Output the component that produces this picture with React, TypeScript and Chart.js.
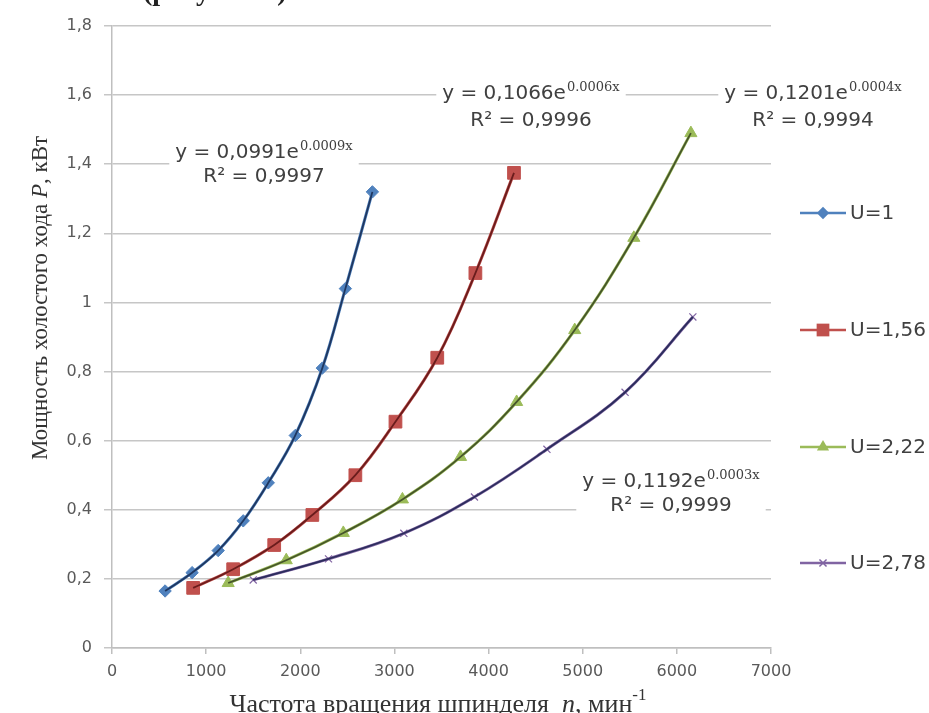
import React, { useEffect, useRef } from "react";
import { Chart, registerables } from "chart.js";

Chart.register(...registerables);

// ---- data ----
const seriesNames = ["U=1", "U=1,56", "U=2,22", "U=2,78"];

const u1X = [564, 851, 1128, 1394, 1660, 1947, 2234, 2479, 2766];
const u1Y = [0.165, 0.218, 0.282, 0.368, 0.478, 0.615, 0.81, 1.04, 1.32];

const u156X = [862, 1287, 1723, 2128, 2585, 3011, 3455, 3860, 4270];
const u156Y = [0.174, 0.228, 0.298, 0.385, 0.5, 0.655, 0.84, 1.085, 1.375];

const u222X = [1234, 1851, 2457, 3085, 3702, 4298, 4915, 5543, 6149];
const u222Y = [0.188, 0.254, 0.333, 0.43, 0.553, 0.712, 0.92, 1.187, 1.49];

const u278X = [1500, 2300, 3100, 3850, 4620, 5450, 6170];
const u278Y = [0.197, 0.258, 0.332, 0.437, 0.575, 0.74, 0.958];

const xTickLabels = ["0", "1000", "2000", "3000", "4000", "5000", "6000", "7000"];
const yTickLabels = ["0", "0,2", "0,4", "0,6", "0,8", "1", "1,2", "1,4", "1,6", "1,8"];

const eqMain = ["y = 0,0991e", "y = 0,1066e", "y = 0,1201e", "y = 0,1192e"];
const eqExp = ["0.0009x", "0.0006x", "0.0004x", "0.0003x"];
const eqR2 = ["R² = 0,9997", "R² = 0,9996", "R² = 0,9994", "R² = 0,9999"];

const yTitle = ["Мощность холостого хода ", "P", ", кВт"];
const xTitle = ["Частота вращения шпинделя  ", "n", ", мин", "-1"];
const topText = "(рисунок 3)";

// ---- styles ----
const colors = ["#4f81bd", "#c0504d", "#9bbb59", "#8064a2"];
const darkColors = ["#1f3760", "#6a1c1c", "#46552a", "#2b2d5c"];
const pointStyles = ["rectRot", "rect", "triangle", "crossRot"];
const pointRadii = [6.2, 9, 7, 5];

const labelPos = [
  { cx: 264, b1: 158, b2: 182 },
  { cx: 531, b1: 99, b2: 126 },
  { cx: 813, b1: 99, b2: 126 },
  { cx: 671, b1: 487, b2: 511 },
];
const legendY = [213, 330, 447, 563];

function toPts(xs: number[], ys: number[]) {
  return xs.map((x, i) => ({ x, y: ys[i] }));
}

function drawMarker(ctx: CanvasRenderingContext2D, style: string, x: number, y: number, r: number, color: string) {
  ctx.save();
  ctx.fillStyle = color;
  ctx.strokeStyle = color;
  ctx.lineWidth = 1.5;
  ctx.beginPath();
  if (style === "rectRot") {
    ctx.moveTo(x, y - r);
    ctx.lineTo(x + r, y);
    ctx.lineTo(x, y + r);
    ctx.lineTo(x - r, y);
    ctx.closePath();
    ctx.fill();
  } else if (style === "rect") {
    const s = r * Math.SQRT1_2;
    ctx.rect(x - s, y - s, 2 * s, 2 * s);
    ctx.fill();
  } else if (style === "triangle") {
    ctx.moveTo(x, y - r);
    ctx.lineTo(x + r * 0.87, y + r * 0.5);
    ctx.lineTo(x - r * 0.87, y + r * 0.5);
    ctx.closePath();
    ctx.fill();
  } else {
    const s = r * Math.SQRT1_2;
    ctx.moveTo(x - s, y - s);
    ctx.lineTo(x + s, y + s);
    ctx.moveTo(x + s, y - s);
    ctx.lineTo(x - s, y + s);
    ctx.stroke();
  }
  ctx.restore();
}

const overlayPlugin = {
  id: "overlay",
  afterDraw(chart: any) {
    const ctx: CanvasRenderingContext2D = chart.ctx;
    ctx.save();
    const eqFont = '20px "DejaVu Sans"';
    const expFont = '13px "DejaVu Serif"';
    // equation labels
    for (let i = 0; i < eqMain.length; i++) {
      const p = labelPos[i];
      ctx.font = eqFont;
      const wMain = ctx.measureText(eqMain[i]).width;
      const wR2 = ctx.measureText(eqR2[i]).width;
      ctx.font = expFont;
      const wExp = ctx.measureText(eqExp[i]).width;
      const total = wMain + wExp + 1;
      const boxW = Math.max(total, wR2) + 12;
      ctx.fillStyle = "#ffffff";
      ctx.fillRect(p.cx - boxW / 2, p.b1 - 20, boxW, p.b2 - p.b1 + 27);
      ctx.fillStyle = "#404040";
      ctx.textBaseline = "alphabetic";
      ctx.textAlign = "left";
      const x0 = p.cx - total / 2;
      ctx.font = eqFont;
      ctx.fillText(eqMain[i], x0, p.b1);
      ctx.font = expFont;
      ctx.fillText(eqExp[i], x0 + wMain + 1, p.b1 - 8);
      ctx.font = eqFont;
      ctx.textAlign = "center";
      ctx.fillText(eqR2[i], p.cx, p.b2);
    }
    // legend
    for (let i = 0; i < seriesNames.length; i++) {
      const y = legendY[i];
      ctx.strokeStyle = colors[i];
      ctx.lineWidth = 2.5;
      ctx.beginPath();
      ctx.moveTo(800, y);
      ctx.lineTo(846, y);
      ctx.stroke();
      drawMarker(ctx, pointStyles[i], 823, y, pointRadii[i], colors[i]);
      ctx.fillStyle = "#404040";
      ctx.font = '20px "DejaVu Sans"';
      ctx.textAlign = "left";
      ctx.textBaseline = "middle";
      ctx.fillText(seriesNames[i], 850, y + 1);
    }
    // y title
    ctx.textBaseline = "alphabetic";
    ctx.fillStyle = "#333333";
    const fReg = '23px "Liberation Serif"';
    const fIt = 'italic 23px "Liberation Serif"';
    ctx.font = fReg;
    const wy0 = ctx.measureText(yTitle[0]).width;
    const wy2 = ctx.measureText(yTitle[2]).width;
    ctx.font = fIt;
    const wy1 = ctx.measureText(yTitle[1]).width;
    const wyT = wy0 + wy1 + wy2;
    ctx.save();
    ctx.translate(47, 298);
    ctx.rotate(-Math.PI / 2);
    ctx.textAlign = "left";
    let xx = -wyT / 2;
    ctx.font = fReg;
    ctx.fillText(yTitle[0], xx, 0);
    xx += wy0;
    ctx.font = fIt;
    ctx.fillText(yTitle[1], xx, 0);
    xx += wy1;
    ctx.font = fReg;
    ctx.fillText(yTitle[2], xx, 0);
    ctx.restore();
    // x title
    const xReg = '26px "Liberation Serif"';
    const xIt = 'italic 26px "Liberation Serif"';
    const xSup = '17px "Liberation Serif"';
    ctx.font = xReg;
    const wx0 = ctx.measureText(xTitle[0]).width;
    const wx2 = ctx.measureText(xTitle[2]).width;
    ctx.font = xIt;
    const wx1 = ctx.measureText(xTitle[1]).width;
    ctx.font = xSup;
    const wx3 = ctx.measureText(xTitle[3]).width;
    const wxT = wx0 + wx1 + wx2 + wx3;
    let tx = 438 - wxT / 2;
    const by = 712;
    ctx.textAlign = "left";
    ctx.font = xReg;
    ctx.fillText(xTitle[0], tx, by);
    tx += wx0;
    ctx.font = xIt;
    ctx.fillText(xTitle[1], tx, by);
    tx += wx1;
    ctx.font = xReg;
    ctx.fillText(xTitle[2], tx, by);
    tx += wx2;
    ctx.font = xSup;
    ctx.fillText(xTitle[3], tx, by - 12);
    // top cut-off text (only its lower edge shows)
    ctx.font = 'bold 28px "Liberation Serif"';
    ctx.fillStyle = "#222222";
    ctx.fillText(topText, 143, 0);
    ctx.restore();
  },
};

export default function App() {
  const ref = useRef<HTMLCanvasElement | null>(null);
  useEffect(() => {
    document.body.style.margin = "0";
    const canvas = ref.current;
    if (!canvas) return;
    const xs = [u1X, u156X, u222X, u278X];
    const ys = [u1Y, u156Y, u222Y, u278Y];
    const datasets: any[] = [];
    for (let i = 0; i < 4; i++) {
      datasets.push({
        label: seriesNames[i],
        data: toPts(xs[i], ys[i]),
        borderColor: colors[i],
        backgroundColor: colors[i],
        borderWidth: 3,
        pointStyle: pointStyles[i],
        pointRadius: pointRadii[i],
        pointBorderWidth: i === 3 ? 1.2 : 1,
        pointBackgroundColor: colors[i],
        pointBorderColor: colors[i],
        tension: 0.4,
        order: 2,
      });
    }
    for (let i = 0; i < 4; i++) {
      datasets.push({
        label: seriesNames[i] + " trend",
        data: toPts(xs[i], ys[i]),
        borderColor: darkColors[i],
        borderWidth: 1.8,
        pointRadius: 0,
        tension: 0.4,
        order: 1,
      });
    }
    const chart = new Chart(canvas, {
      type: "line",
      data: { datasets },
      plugins: [overlayPlugin],
      options: {
        animation: false,
        responsive: true,
        maintainAspectRatio: false,
        layout: { padding: { left: 0, right: 158, top: 26, bottom: 0 } },
        plugins: { legend: { display: false }, tooltip: { enabled: false } },
        scales: {
          x: {
            type: "linear",
            min: 0,
            max: 7000,
            ticks: {
              stepSize: 1000,
              color: "#595959",
              font: { family: "DejaVu Sans", size: 16 },
              padding: 8,
              maxRotation: 0,
              callback: (_v: any, idx: number) => xTickLabels[idx],
            },
            grid: { drawOnChartArea: false, color: "#bfbfbf", tickLength: 6, lineWidth: 1.5 },
            border: { color: "#bfbfbf", width: 1.5 },
            afterFit: (s: any) => {
              s.height = 65;
            },
          },
          y: {
            type: "linear",
            min: 0,
            max: 1.8,
            ticks: {
              stepSize: 0.2,
              color: "#595959",
              font: { family: "DejaVu Sans", size: 16 },
              padding: 12,
              callback: (_v: any, idx: number) => yTickLabels[idx],
            },
            grid: { color: "#c6c6c6", tickLength: 8, lineWidth: 1.5 },
            border: { color: "#bfbfbf", width: 1.5 },
            afterFit: (s: any) => {
              s.width = 112;
            },
          },
        },
      },
    });
    return () => chart.destroy();
  }, []);
  return (
    <div style={{ position: "relative", width: 929, height: 713, background: "#ffffff" }}>
      <canvas ref={ref} />
    </div>
  );
}
